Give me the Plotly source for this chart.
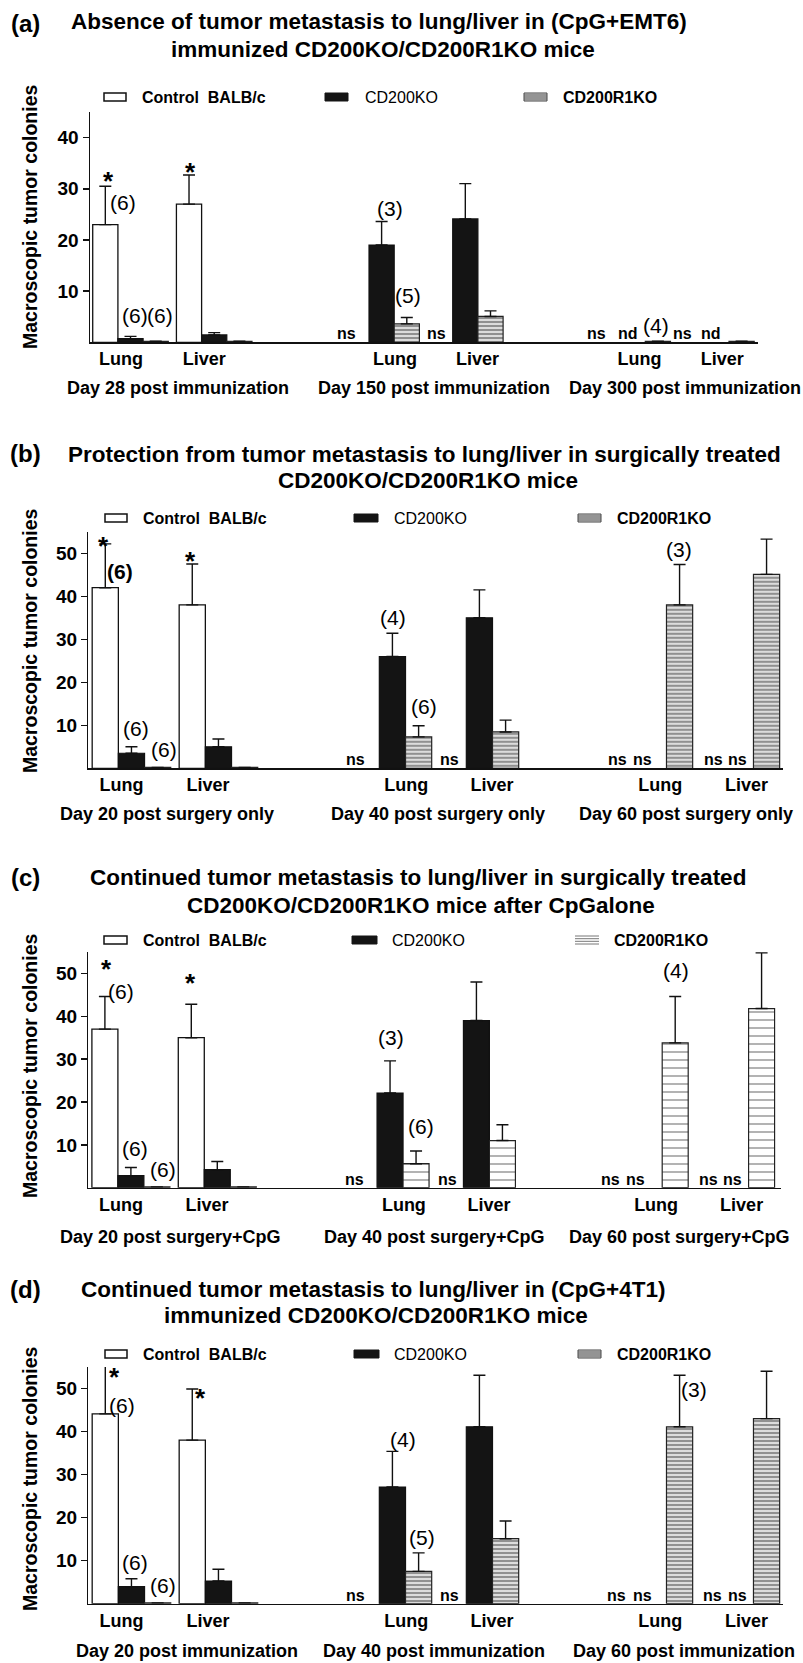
import plotly.graph_objects as go

W, H = 803, 1663
FONT = "Liberation Sans, Arial, Helvetica, sans-serif"

# ---------------- data ----------------
series = ["Control  BALB/c", "CD200KO", "CD200R1KO"]
organs = ["Lung", "Liver", "Lung", "Liver", "Lung", "Liver"]

# panel (a)
a_title = ["Absence of tumor metastasis to lung/liver in (CpG+EMT6)",
           "immunized CD200KO/CD200R1KO mice"]
a_days = ["Day 28 post immunization", "Day 150 post immunization", "Day 300 post immunization"]
a_ctrl = [23.0, 27.0, None, None, None, None]
a_ctrl_err = [7.5, 5.7, 0, 0, 0, 0]
a_cd200 = [0.7, 1.45, 19.0, 24.1, None, None]
a_cd200_err = [0.45, 0.45, 4.6, 6.9, 0, 0]
a_r1 = [0.2, 0.2, 3.6, 5.05, 0.2, 0.2]
a_r1_err = [0, 0, 1.25, 1.1, 0, 0]
a_notes = [("*", -0.269, 32.6), ("(6)", -0.086, 26.9), ("*", 0.719, 34.4),
           ("(6)", 0.054, 4.8), ("(6)", 0.352, 4.8), ("(3)", 3.10, 25.8),
           ("(5)", 3.31, 8.7), ("(4)", 6.28, 2.9)]
a_marks = [("ns", 2.575), ("ns", 3.65), ("ns", 5.57), ("nd", 5.94), ("ns", 6.60), ("nd", 6.93)]

# panel (b)
b_title = ["Protection from tumor metastasis to lung/liver in surgically treated",
           "CD200KO/CD200R1KO mice"]
b_days = ["Day 20 post surgery only", "Day 40 post surgery only", "Day 60 post surgery only"]
b_ctrl = [42.0, 38.0, None, None, None, None]
b_ctrl_err = [10.2, 9.5, 0, 0, 0, 0]
b_cd200 = [3.5, 5.0, 26.0, 35.0, None, None]
b_cd200_err = [1.5, 1.8, 5.4, 6.5, 0, 0]
b_r1 = [0.2, 0.2, 7.3, 8.45, 38.0, 45.1]
b_r1_err = [0, 0, 2.6, 2.75, 9.4, 8.2]
b_notes = [("*", -0.316, 53.1), ("<b>(6)</b>", -0.134, 45.3), ("*", 0.684, 49.6),
           ("(6)", 0.052, 8.7), ("(6)", 0.374, 3.8), ("(4)", 3.01, 34.5),
           ("(6)", 3.36, 13.8), ("(3)", 6.30, 50.5)]
b_marks = [("ns", 2.58), ("ns", 3.66), ("ns", 5.59), ("ns", 5.88), ("ns", 6.69), ("ns", 6.97)]

# panel (c)
c_title = ["Continued tumor metastasis to lung/liver in surgically treated",
           "CD200KO/CD200R1KO mice after CpGalone"]
c_days = ["Day 20 post surgery+CpG", "Day 40 post surgery+CpG", "Day 60 post surgery+CpG"]
c_ctrl = [37.0, 35.0, None, None, None, None]
c_ctrl_err = [7.6, 7.8, 0, 0, 0, 0]
c_cd200 = [2.8, 4.2, 22.1, 39.0, None, None]
c_cd200_err = [1.9, 1.9, 7.5, 9.0, 0, 0]
c_r1 = [0.2, 0.2, 5.6, 11.0, 33.8, 41.8]
c_r1_err = [0, 0, 2.95, 3.7, 10.8, 13.0]
c_notes = [("*", -0.277, 52.5), ("(6)", -0.116, 45.4), ("*", 0.687, 49.2),
           ("(6)", 0.046, 8.6), ("(6)", 0.37, 3.7), ("(3)", 3.006, 34.5),
           ("(6)", 3.36, 13.7), ("(4)", 6.31, 50.2)]
c_marks = [("ns", 2.586), ("ns", 3.665), ("ns", 5.55), ("ns", 5.84), ("ns", 6.69), ("ns", 6.97)]

# panel (d)
d_title = ["Continued tumor metastasis to lung/liver in (CpG+4T1)",
           "immunized CD200KO/CD200R1KO mice"]
d_days = ["Day 20 post immunization", "Day 40 post immunization", "Day 60 post immunization"]
d_ctrl = [44.1, 38.0, None, None, None, None]
d_ctrl_err = [11.1, 11.9, 0, 0, 0, 0]
d_cd200 = [3.95, 5.26, 27.1, 41.1, None, None]
d_cd200_err = [1.85, 2.74, 8.3, 12.0, 0, 0]
d_r1 = [0.2, 0.2, 7.5, 15.1, 41.1, 43.0]
d_r1_err = [0, 0, 4.3, 4.1, 12.0, 11.0]
d_notes = [("*", -0.19, 54.0), ("(6)", -0.109, 45.6), ("*", 0.795, 49.2),
           ("(6)", 0.04, 9.0), ("(6)", 0.362, 3.7), ("(4)", 3.12, 37.6),
           ("(5)", 3.345, 15.0), ("(3)", 6.47, 49.4)]
d_marks = [("ns", 2.58), ("ns", 3.66), ("ns", 5.58), ("ns", 5.88), ("ns", 6.68), ("ns", 6.97)]

y_title = "Macroscopic tumor colonies"

# ---------------- layout configuration (pixels) ----------------
group_pos = [0, 1, 3, 4, 6, 7]
organ_tick_pos = [-0.115, 0.88, 3.16, 4.145, 6.08, 7.07]

panels = [
    dict(tag="(a)", title=a_title, days=a_days,
         vals=[a_ctrl, a_cd200, a_r1], errs=[a_ctrl_err, a_cd200_err, a_r1_err],
         notes=a_notes, marks=a_marks,
         px=(90, 758), py=(112, 342.3), xr=(-0.484, 7.497), ymax=45, yt=[10, 20, 30, 40],
         tag_y=23, t1=(379, 22), t2=(383, 49.5), leg_y=97,
         leg_box=[(104, 126), (325, 348), (524, 547)], leg_txt=[140, 363, 561],
         ytitle_y=217, day_x=[0.567, 3.626, 6.63], day_y=388, hatch="dense"),
    dict(tag="(b)", title=b_title, days=b_days,
         vals=[b_ctrl, b_cd200, b_r1], errs=[b_ctrl_err, b_cd200_err, b_r1_err],
         notes=b_notes, marks=b_marks,
         px=(88.4, 783), py=(531.8, 768.3), xr=(-0.495, 7.49), ymax=55, yt=[10, 20, 30, 40, 50],
         tag_y=453, t1=(424, 454), t2=(428, 480), leg_y=518,
         leg_box=[(105, 127), (354, 378), (578, 601)], leg_txt=[141, 392, 615],
         ytitle_y=641, day_x=[0.41, 3.52, 6.38], day_y=814, hatch="dense"),
    dict(tag="(c)", title=c_title, days=c_days,
         vals=[c_ctrl, c_cd200, c_r1], errs=[c_ctrl_err, c_cd200_err, c_r1_err],
         notes=c_notes, marks=c_marks,
         px=(88.4, 780.5), py=(952, 1187.7), xr=(-0.492, 7.52), ymax=55, yt=[10, 20, 30, 40, 50],
         tag_y=877, t1=(418, 877), t2=(421, 905), leg_y=940,
         leg_box=[(104, 127), (352, 377), (575, 599)], leg_txt=[141, 390, 612],
         ytitle_y=1066, day_x=[0.455, 3.51, 6.355], day_y=1237, hatch="sparse"),
    dict(tag="(d)", title=d_title, days=d_days,
         vals=[d_ctrl, d_cd200, d_r1], errs=[d_ctrl_err, d_cd200_err, d_r1_err],
         notes=d_notes, marks=d_marks,
         px=(88.4, 783), py=(1367, 1603.7), xr=(-0.495, 7.49), ymax=55, yt=[10, 20, 30, 40, 50],
         tag_y=1289, t1=(372.6, 1289), t2=(376, 1315), leg_y=1354,
         leg_box=[(105, 127), (354, 379), (578, 601)], leg_txt=[141, 392, 615],
         ytitle_y=1479, day_x=[0.636, 3.48, 6.35], day_y=1651, hatch="dense"),
]


def fx(p):
    return p / W


def fy(p):
    return 1 - p / H


def bold(size):
    return dict(family=FONT, size=size, color="black", weight="bold")


def reg(size):
    return dict(family=FONT, size=size, color="black")


fig = go.Figure()
annotations = []
shapes = []

for i, P in enumerate(panels):
    n = "" if i == 0 else str(i + 1)
    xa, ya = "x" + n, "y" + n
    if P["hatch"] == "dense":
        r1_marker = dict(color="#d4d4d4",
                         pattern=dict(shape="-", size=4, solidity=0.5, fgcolor="#444444",
                                      bgcolor="#dcdcdc"),
                         line=dict(color="#222222", width=1.2))
    else:
        r1_marker = dict(color="white",
                         pattern=dict(shape="-", size=8, solidity=0.16, fgcolor="#111111",
                                      bgcolor="white"),
                         line=dict(color="#222222", width=1.2))
    markers = [dict(color="white", line=dict(color="#111111", width=1.3)),
               dict(color="#141414", line=dict(color="#111111", width=1.2)),
               r1_marker]
    for s in range(3):
        fig.add_trace(go.Bar(
            x=group_pos, y=P["vals"][s], name=series[s], xaxis=xa, yaxis=ya,
            showlegend=False, marker=markers[s], hoverinfo="skip",
            error_y=dict(type="data", symmetric=False, array=P["errs"][s],
                         arrayminus=[0] * len(group_pos), color="#111111",
                         thickness=1.4, width=6),
        ))

    x0, x1 = P["px"]
    y0, y1 = P["py"]
    fig.layout["xaxis" + n] = dict(
        domain=[fx(x0), fx(x1)], range=list(P["xr"]), anchor=ya,
        showline=True, linecolor="#111111", linewidth=1.5, ticks="",
        tickmode="array", tickvals=organ_tick_pos, ticktext=organs,
        tickfont=bold(18), ticklabelstandoff=0,
        showgrid=False, zeroline=False, fixedrange=True)
    fig.layout["yaxis" + n] = dict(
        domain=[fy(y1), fy(y0)], range=[0, P["ymax"]], anchor=xa,
        showline=True, linecolor="#111111", linewidth=1.5,
        ticks="outside", ticklen=6, tickwidth=1.5, tickcolor="#111111",
        tickmode="array", tickvals=P["yt"], tickfont=bold(19),
        showgrid=False, zeroline=False, fixedrange=True)

    # panel tag and title
    annotations.append(dict(text=P["tag"], xref="paper", yref="paper", x=fx(26), y=fy(P["tag_y"]),
                            xanchor="center", yanchor="middle", showarrow=False, font=bold(24)))
    annotations.append(dict(text=P["title"][0], xref="paper", yref="paper", x=fx(P["t1"][0]),
                            y=fy(P["t1"][1]), xanchor="center", yanchor="middle",
                            showarrow=False, font=bold(22.5)))
    annotations.append(dict(text=P["title"][1], xref="paper", yref="paper", x=fx(P["t2"][0]),
                            y=fy(P["t2"][1]), xanchor="center", yanchor="middle",
                            showarrow=False, font=bold(22.5)))

    # y title
    annotations.append(dict(text=y_title, xref="paper", yref="paper", x=fx(30), y=fy(P["ytitle_y"]),
                            xanchor="center", yanchor="middle", textangle=-90,
                            showarrow=False, font=bold(19.5)))

    # day labels
    for k, d in enumerate(P["days"]):
        annotations.append(dict(text=d, xref=xa, yref="paper", x=P["day_x"][k], y=fy(P["day_y"]),
                                xanchor="center", yanchor="middle", showarrow=False, font=bold(18)))

    # significance / n labels
    for (t, xv, yv) in P["notes"]:
        if t == "*":
            annotations.append(dict(text=t, xref=xa, yref=ya, x=xv, y=yv, xanchor="center",
                                    yanchor="middle", yshift=-6, showarrow=False, font=bold(26),
                                    borderpad=0))
        else:
            annotations.append(dict(text=t, xref=xa, yref=ya, x=xv, y=yv, xanchor="center",
                                    yanchor="middle", yshift=2, showarrow=False, font=reg(21),
                                    borderpad=0))
    for (t, xv) in P["marks"]:
        annotations.append(dict(text=t, xref=xa, yref=ya, x=xv, y=0, xanchor="center",
                                yanchor="bottom", yshift=-2, showarrow=False, font=bold(16)))

    # legend (drawn manually to match placement)
    ly = P["leg_y"]
    bh = 4
    (c0, c1), (k0, k1), (r0, r1) = P["leg_box"]
    shapes.append(dict(type="rect", xref="paper", yref="paper", x0=fx(c0), x1=fx(c1),
                       y0=fy(ly + bh), y1=fy(ly - bh), fillcolor="white",
                       line=dict(color="#111111", width=1.5)))
    shapes.append(dict(type="rect", xref="paper", yref="paper", x0=fx(k0), x1=fx(k1),
                       y0=fy(ly + bh), y1=fy(ly - bh), fillcolor="#141414",
                       line=dict(color="#141414", width=1)))
    if P["hatch"] == "dense":
        shapes.append(dict(type="rect", xref="paper", yref="paper", x0=fx(r0), x1=fx(r1),
                           y0=fy(ly + bh), y1=fy(ly - bh), fillcolor="#d4d4d4",
                           line=dict(color="#444444", width=1)))
        for off in (-2, 0, 2):
            shapes.append(dict(type="line", xref="paper", yref="paper", x0=fx(r0), x1=fx(r1),
                               y0=fy(ly + off), y1=fy(ly + off),
                               line=dict(color="#555555", width=1)))
    else:
        for off in (-4, -1.3, 1.3, 4):
            shapes.append(dict(type="line", xref="paper", yref="paper", x0=fx(r0), x1=fx(r1),
                               y0=fy(ly + off), y1=fy(ly + off),
                               line=dict(color="#777777", width=1)))
    leg_fonts = [bold(16), reg(16), bold(16)]
    for s in range(3):
        annotations.append(dict(text=series[s], xref="paper", yref="paper", x=fx(P["leg_txt"][s]),
                                y=fy(ly), xanchor="left", yanchor="middle", showarrow=False,
                                font=leg_fonts[s]))

fig.update_layout(
    width=W, height=H, margin=dict(l=0, r=0, t=0, b=0),
    paper_bgcolor="white", plot_bgcolor="white",
    barmode="group", bargap=0.097, bargroupgap=0,
    showlegend=False, hovermode=False, annotations=annotations, shapes=shapes,
    font=dict(family=FONT, color="black"),
)

fig.write_html(
    "out.html",
    config={"displayModeBar": False, "staticPlot": True},
    post_script="document.body.style.margin='0';document.body.style.padding='0';"
                "document.body.style.overflow='hidden';"
                "document.documentElement.style.overflow='hidden';",
)
